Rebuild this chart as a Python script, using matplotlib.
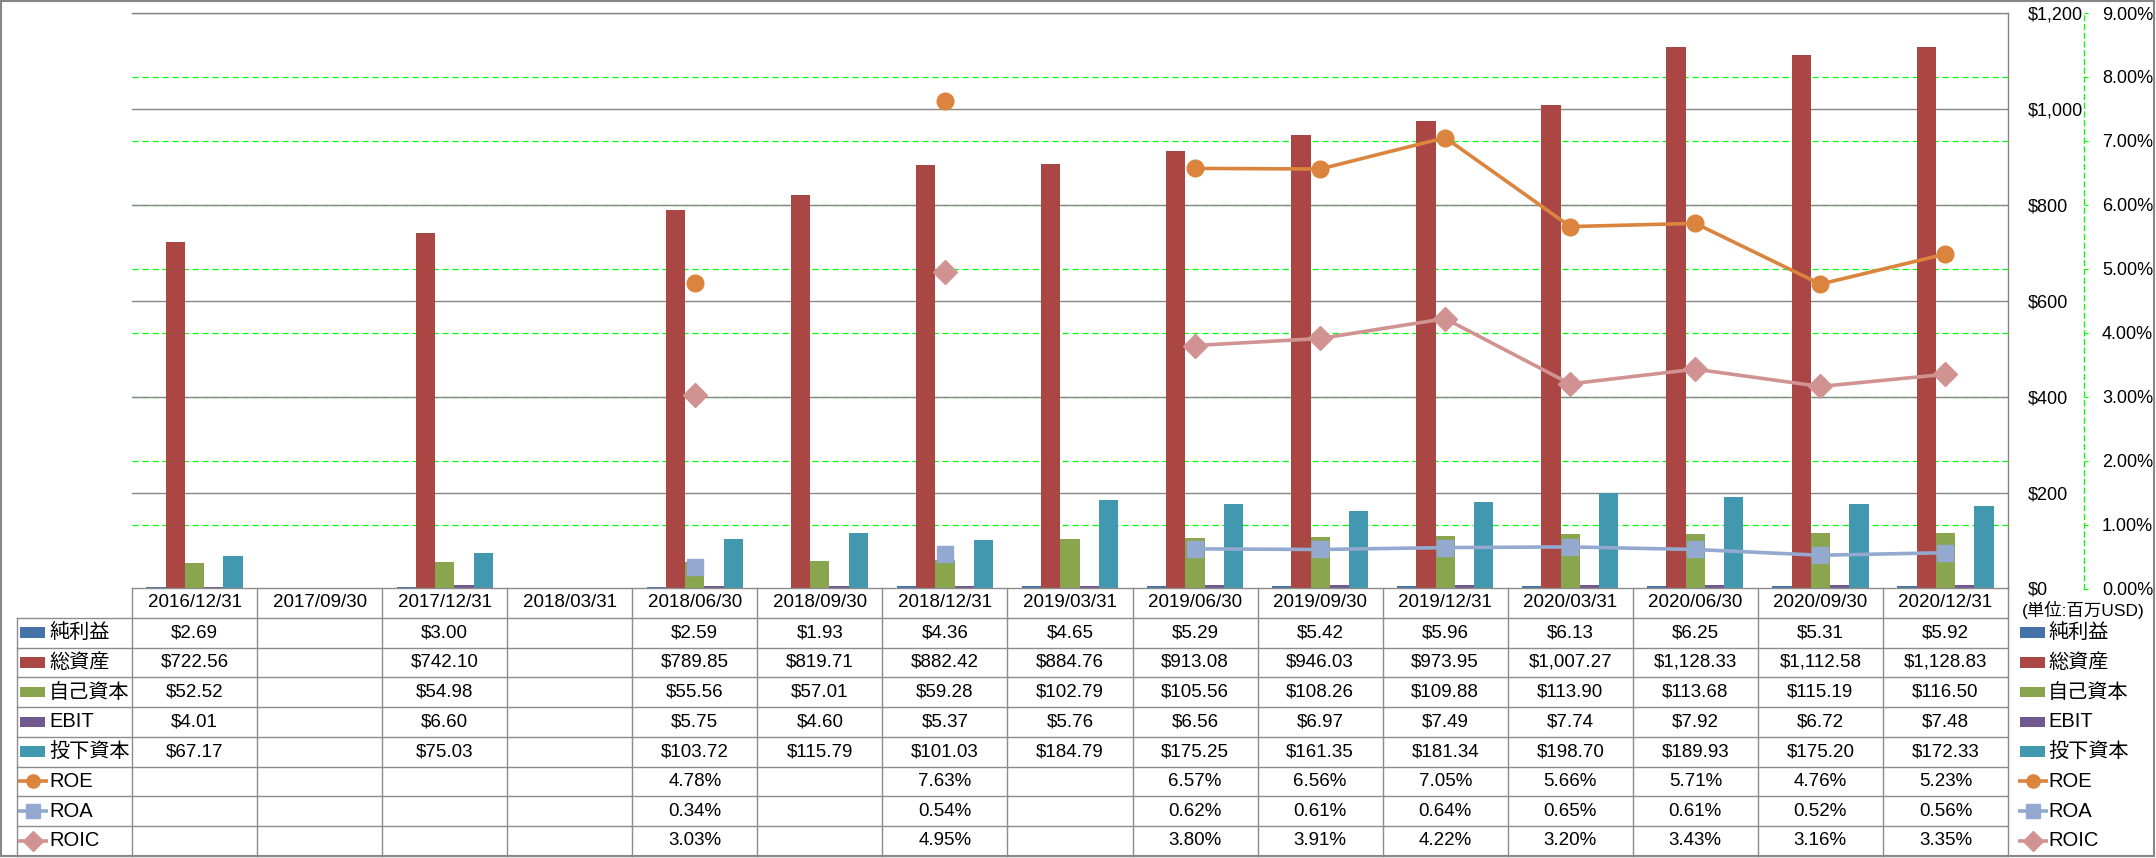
import numpy as np
import matplotlib
matplotlib.use('Agg')
import matplotlib.pyplot as plt
from matplotlib.patches import Rectangle
from matplotlib.lines import Line2D
from matplotlib.ticker import FuncFormatter, MultipleLocator

plt.rcParams['font.family'] = ['Liberation Sans', 'Noto Sans CJK JP', 'DejaVu Sans']

nan = np.nan
dates = ['2016/12/31', '2017/09/30', '2017/12/31', '2018/03/31', '2018/06/30',
         '2018/09/30', '2018/12/31', '2019/03/31', '2019/06/30', '2019/09/30',
         '2019/12/31', '2020/03/31', '2020/06/30', '2020/09/30', '2020/12/31']
net_income = [2.69, nan, 3.00, nan, 2.59, 1.93, 4.36, 4.65, 5.29, 5.42, 5.96, 6.13, 6.25, 5.31, 5.92]
total_assets = [722.56, nan, 742.10, nan, 789.85, 819.71, 882.42, 884.76, 913.08, 946.03,
                973.95, 1007.27, 1128.33, 1112.58, 1128.83]
equity = [52.52, nan, 54.98, nan, 55.56, 57.01, 59.28, 102.79, 105.56, 108.26,
          109.88, 113.90, 113.68, 115.19, 116.50]
ebit = [4.01, nan, 6.60, nan, 5.75, 4.60, 5.37, 5.76, 6.56, 6.97, 7.49, 7.74, 7.92, 6.72, 7.48]
invested = [67.17, nan, 75.03, nan, 103.72, 115.79, 101.03, 184.79, 175.25, 161.35,
            181.34, 198.70, 189.93, 175.20, 172.33]
roe = [nan, nan, nan, nan, 4.78, nan, 7.63, nan, 6.57, 6.56, 7.05, 5.66, 5.71, 4.76, 5.23]
roa = [nan, nan, nan, nan, 0.34, nan, 0.54, nan, 0.62, 0.61, 0.64, 0.65, 0.61, 0.52, 0.56]
roic = [nan, nan, nan, nan, 3.03, nan, 4.95, nan, 3.80, 3.91, 4.22, 3.20, 3.43, 3.16, 3.35]

bar_names = ['純利益', '総資産', '自己資本', 'EBIT', '投下資本']
bar_series = [net_income, total_assets, equity, ebit, invested]
bar_colors = ['#4572A7', '#AA4643', '#89A54E', '#71588F', '#4198AF']
line_names = ['ROE', 'ROA', 'ROIC']
line_series = [roe, roa, roic]
line_colors = ['#DB843D', '#93A9CF', '#D19392']
line_markers = ['o', 's', 'D']
line_ms = [12, 12, 12.5]
unit_label = '(単位:百万USD)'

W, H = 2156, 858
fig = plt.figure(figsize=(W / 100, H / 100), dpi=100)

PL, PR, PT, PB = 132, 2008, 13, 588.5
ax = fig.add_axes([PL / W, (H - PB) / H, (PR - PL) / W, (PB - PT) / H])
n = len(dates)
x = np.arange(n)
w = 1 / 6.5
for k, (vals, c) in enumerate(zip(bar_series, bar_colors)):
    ax.bar(x + (k - 2) * w, vals, w, color=c, zorder=2, linewidth=0)

ax2 = ax.twinx()

ax.set_xlim(-0.5, n - 0.5)
ax.set_ylim(0, 1200)
ax.yaxis.set_major_locator(MultipleLocator(200))
ax.yaxis.set_major_formatter(FuncFormatter(lambda v, p: '${:,.0f}'.format(v)))
ax.grid(axis='y', color='#868686', lw=1.0, zorder=0)
ax.set_axisbelow(True)
ax.tick_params(axis='x', length=0, labelbottom=False)
ax.yaxis.tick_right()
ax.tick_params(axis='y', which='both', left=False, labelleft=False, right=True,
               labelright=True, length=0, pad=14, labelsize=13)
for s in ['left', 'bottom']:
    ax.spines[s].set_visible(False)
for s in ['top', 'right']:
    ax.spines[s].set_color('#868686')
    ax.spines[s].set_linewidth(1.0)

ax2.set_ylim(0, 9)
for p in range(1, 9):
    ax.add_artist(Line2D([0, 1], [p, p], transform=ax2.get_yaxis_transform(),
                         color='#00FF00', lw=0.9, ls=(0, (5, 3)), zorder=0.5))
for vals, c, m, ms in zip(line_series, line_colors, line_markers, line_ms):
    ax2.plot(x, vals, color=c, lw=2.6, marker=m, ms=ms, mec=c, zorder=3)
ax2.yaxis.set_major_locator(MultipleLocator(1))
ax2.yaxis.set_major_formatter(FuncFormatter(lambda v, p: '{:.2f}%'.format(v)))
for s in ['left', 'top', 'bottom']:
    ax2.spines[s].set_visible(False)
ax2.spines['right'].set_position(('outward', 54.7))
ax2.spines['right'].set_color('#00FF00')
ax2.spines['right'].set_linestyle((0, (4, 3)))
ax2.spines['right'].set_linewidth(0.9)
ax2.tick_params(axis='y', length=3, color='#00FF00', pad=10, labelsize=13)

# data table overlay (pixel coordinates)
ov = fig.add_axes([0, 0, 1, 1])
ov.set_xlim(0, W)
ov.set_ylim(H, 0)
ov.axis('off')
ov.patch.set_visible(False)

gc = '#8c8c8c'
TL = 17
colw = (PR - PL) / n
rowh = 29.75
ys = [588 + j * rowh for j in range(10)]
xs = [PL + i * colw for i in range(n + 1)]
ov.plot([PL, PR], [ys[0], ys[0]], color=gc, lw=1.0)
for j in range(1, 10):
    ov.plot([TL, PR], [ys[j], ys[j]], color=gc, lw=1.0)
for xi in xs:
    ov.plot([xi, xi], [ys[0], ys[9]], color=gc, lw=1.0)
ov.plot([TL, TL], [ys[1], ys[9]], color=gc, lw=1.0)

fs = 13.5
fs_lab = 14.5
for i, d in enumerate(dates):
    ov.text(PL + (i + 0.5) * colw, (ys[0] + ys[1]) / 2, d, ha='center', va='center', fontsize=fs)

rows = []
for nm, vals, c in zip(bar_names, bar_series, bar_colors):
    rows.append((nm, ['' if np.isnan(v) else '${:,.2f}'.format(v) for v in vals], 'bar', c, None))
for nm, vals, c, m in zip(line_names, line_series, line_colors, line_markers):
    rows.append((nm, ['' if np.isnan(v) else '{:.2f}%'.format(v) for v in vals], 'line', c, m))

def key(xk, yc, kind, c, m):
    if kind == 'bar':
        ov.add_patch(Rectangle((xk, yc - 5.3), 25, 10.6, color=c, lw=0))
    else:
        ov.plot([xk - 2, xk + 28], [yc, yc], color=c, lw=2.6, solid_capstyle='butt')
        ov.plot([xk + 13], [yc], marker=m, color=c, ms=9.5 if m != 'D' else 10, mec=c)

for j, (nm, cells, kind, c, m) in enumerate(rows):
    yc = (ys[j + 1] + ys[j + 2]) / 2
    key(20, yc, kind, c, m)
    ov.text(49, yc, nm, ha='left', va='center', fontsize=fs_lab)
    for i, t in enumerate(cells):
        if t:
            ov.text(PL + (i + 0.5) * colw, yc, t, ha='center', va='center', fontsize=fs)
    key(2020, yc, kind, c, m)
    ov.text(2048, yc, nm, ha='left', va='center', fontsize=fs_lab)

ov.text(2022, 610, unit_label, ha='left', va='center', fontsize=12.5)
ov.add_patch(Rectangle((1, 1), W - 3, H - 3, fill=False, edgecolor='#868686', lw=1.5))

fig.savefig('out.png', dpi=100)
